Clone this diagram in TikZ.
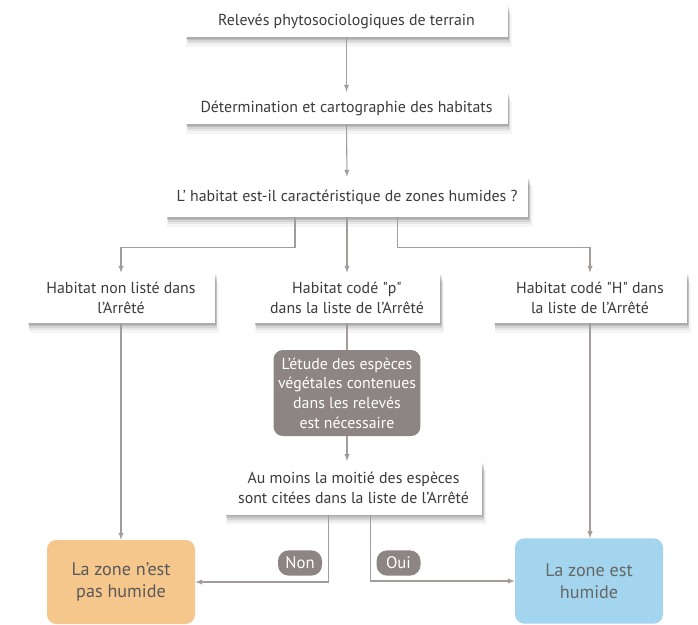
\documentclass[tikz,border=0pt]{standalone}
\usepackage{fontspec}
\setmainfont{PT Sans}
\usepackage{tikz}
\usetikzlibrary{arrows,positioning,shadows,calc}

\definecolor{linegray}{HTML}{A39C99}
\definecolor{txtgray}{HTML}{3E3B3A}
\definecolor{stonegray}{HTML}{8C8583}
\definecolor{peach}{HTML}{F6C78D}
\definecolor{skyblue}{HTML}{A3D6EE}

\begin{document}
\begin{tikzpicture}[x=0.75pt,y=-0.75pt,
	font=\fontsize{11.9}{14.8}\selectfont, text=txtgray,
	whitebox/.style={fill=white,align=center,inner sep=2pt,
		drop shadow={shadow xshift=2pt,shadow yshift=-7pt,shadow scale=1.01,opacity=0.04,fill=black},
		drop shadow={shadow xshift=1.8pt,shadow yshift=-5.5pt,opacity=0.06,fill=black},
		drop shadow={shadow xshift=1.5pt,shadow yshift=-4pt,opacity=0.08,fill=black},
		drop shadow={shadow xshift=1.2pt,shadow yshift=-2.5pt,opacity=0.10,fill=black},
		drop shadow={shadow xshift=0.8pt,shadow yshift=-1.2pt,opacity=0.10,fill=black}},
	endbox/.style={rounded corners=7pt,align=center,inner sep=2pt,
		font=\fontsize{13.6}{16.5}\selectfont},
	pill/.style={fill=stonegray,rounded corners=8pt,text=white,inner sep=1pt,
		font=\fontsize{12.5}{14}\selectfont,minimum width=33pt,minimum height=19pt},
	arr/.style={draw=linegray,line width=0.8pt,-latex},
	lnk/.style={draw=linegray,line width=0.8pt}]
	
		\useasboundingbox (0,0) rectangle (698,624);
		
		\node[whitebox,minimum width=242pt,minimum height=24pt] (rel) at (346.5,21) {Relevés phytosociologiques de terrain};
		\node[whitebox,minimum width=242pt,minimum height=24pt] (det) at (346.5,108) {Détermination et cartographie des habitats};
		\node[whitebox,minimum width=272pt,minimum height=30pt] (hab) at (347,197) {L' habitat est-il caractéristique de zones humides ?};
		
		\node[whitebox,minimum width=141pt,minimum height=37.5pt] (nonliste) at (121,298) {Habitat non listé dans\\l'Arrêté};
		\node[whitebox,minimum width=140pt,minimum height=37.5pt] (codep) at (347,298) {Habitat codé \textquotedbl p\textquotedbl\\dans la liste de l'Arrêté};
		\node[whitebox,minimum width=145.5pt,minimum height=37.5pt] (codeh) at (590,298) {Habitat codé \textquotedbl H\textquotedbl{} dans\\la liste de l'Arrêté};
		
		\node[fill=stonegray,rounded corners=7pt,text=white,align=center,
			minimum width=110pt,minimum height=64.5pt] (etude) at (347,393)
			{L'étude des espèces\\végétales contenues\\dans les relevés\\est nécessaire};
		\node[whitebox,minimum width=193pt,minimum height=40pt] (moitie) at (353.5,488) {Au moins la moitié des espèces\\sont citées dans la liste de l'Arrêté};
		
		\node[endbox,fill=peach,text=black!65,minimum width=111pt,minimum height=63pt] (pashum) at (121,582) {La zone n'est\\pas humide};
		\node[endbox,fill=skyblue,text=black!60,minimum width=111pt,minimum height=64pt] (humide) at (589,581) {La zone est\\humide};
		
		% connectors
		\draw[arr] (rel) -- (det);
		\draw[arr] (det) -- (hab);
		\draw[arr] ([xshift=-39pt]hab.south) -- ++(0,-22.5pt) -| (nonliste.north);
		\draw[arr] (hab.south) -- (codep.north);
		\draw[arr] ([xshift=38pt]hab.south) -- ++(0,-22.5pt) -| (codeh.north);
		\draw[lnk] (codep) -- (etude);
		\draw[arr] (etude.south) -- (etude.south |- moitie.north);
		\draw[arr] (nonliste) -- (pashum);
		\draw[arr] (codeh.south) -- (codeh.south |- humide.north);
		\draw[arr] ([xshift=-19pt]moitie.south) |- (pashum.east);
		\draw[arr] ([xshift=12.5pt]moitie.south) |- (humide.west);
		
		\node[pill] (non) at (300,563) {Non};
		\node[pill] (oui) at (398.5,563) {Oui};
		
\end{tikzpicture}
\end{document}
